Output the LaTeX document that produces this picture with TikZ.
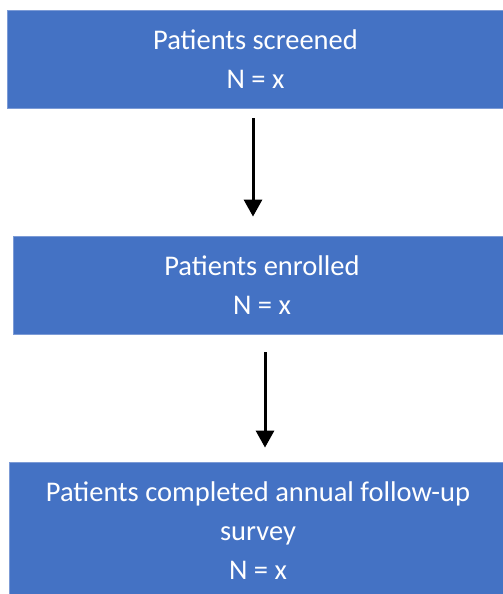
\documentclass[tikz,border=0pt]{standalone}
\usepackage{fontspec}
\setmainfont{Carlito}
\usepackage{tikz}
\usetikzlibrary{positioning,arrows.meta}
\definecolor{boxblue}{HTML}{4472C4}
\definecolor{boxedge}{HTML}{7C9BD6}

\begin{document}
\begin{tikzpicture}[x=1pt, y=1pt,
  stage/.style={draw=boxedge, line width=0.8pt, fill=boxblue, text=white,
                minimum width=497pt, minimum height=98pt, inner sep=0pt,
                font=\fontsize{28.5}{39}\selectfont, align=center},
  arr/.style={-{Triangle[length=17pt, width=18pt]}, line width=3pt, black},
]
\useasboundingbox (0,0) rectangle (503,594);

% three stages, top to bottom
\node[stage] (scr) at (255.5,535) {Patients screened\\N = x};
\node[stage, minimum width=498pt] (enr) at (262,309) {Patients enrolled\\N = x};
\node[stage, minimum height=138pt] (fup) at (258,63)
  {Patients completed annual follow-up\\survey\\N = x};

% arrows between the stages
\draw[arr] ([xshift=-2.5pt, yshift=-10pt]scr.south) -- ([xshift=-9pt, yshift=19pt]enr.north);
\draw[arr] ([xshift=3pt, yshift=-18pt]enr.south) -- ([xshift=7pt, yshift=14pt]fup.north);
\end{tikzpicture}
\end{document}
